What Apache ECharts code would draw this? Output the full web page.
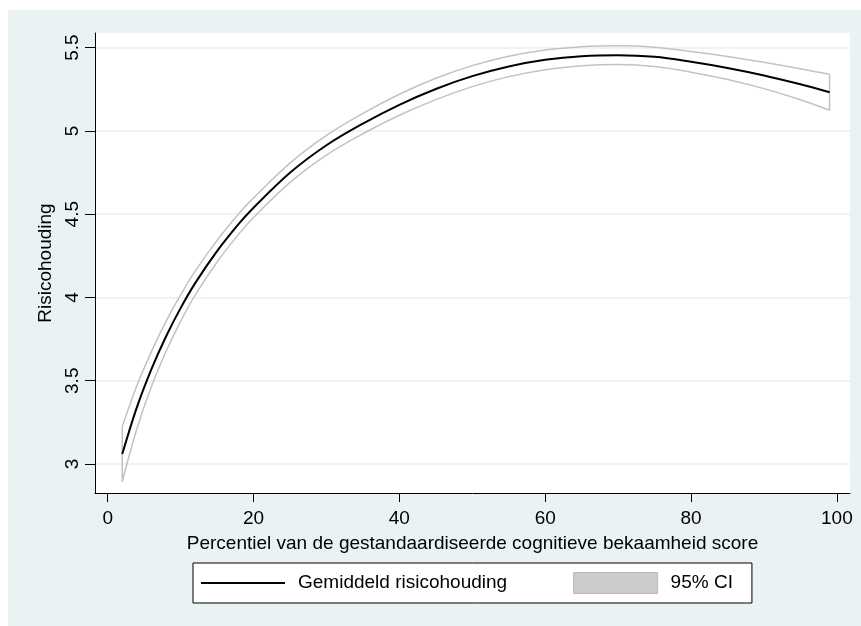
<!DOCTYPE html>
<html><head><meta charset="utf-8">
<script src="https://cdn.jsdelivr.net/npm/echarts@6/dist/echarts.min.js"></script>
<style>html,body{margin:0;padding:0;background:#fff}#c{width:861px;height:626px}</style>
</head><body><div id="c"></div>
<script>
const xVals     = [2, 4, 6, 8, 10, 12, 15, 18, 20, 25, 30, 35, 40, 45, 50, 55, 60, 65, 70, 75, 80, 85, 90, 95, 99];
const meanVals  = [3.06, 3.34, 3.57, 3.766, 3.936, 4.086, 4.278, 4.443, 4.539, 4.749, 4.914, 5.044, 5.157, 5.252, 5.329, 5.387, 5.427, 5.449, 5.455, 5.445, 5.415, 5.378, 5.333, 5.28, 5.232];
const upperVals = [3.225, 3.47, 3.675, 3.856, 4.015, 4.158, 4.343, 4.504, 4.598, 4.807, 4.973, 5.105, 5.22, 5.316, 5.392, 5.448, 5.486, 5.506, 5.511, 5.503, 5.477, 5.447, 5.412, 5.373, 5.34];
const lowerVals = [2.895, 3.21, 3.465, 3.676, 3.857, 4.014, 4.213, 4.382, 4.48, 4.691, 4.855, 4.983, 5.094, 5.188, 5.266, 5.326, 5.368, 5.392, 5.399, 5.387, 5.353, 5.309, 5.254, 5.187, 5.124];
const xTicks = [0, 20, 40, 60, 80, 100];
const yTicks = [3, 3.5, 4, 4.5, 5, 5.5];
const xTitle = 'Percentiel van de gestandaardiseerde cognitieve bekaamheid score';
const yTitle = 'Risicohouding';
const meanName = 'Gemiddeld risicohouding';
const ciName = '95% CI';

const FONT = '"Liberation Sans", Arial, sans-serif';
const pairs = ys => xVals.map((x, i) => [x, ys[i]]);
const last = xVals.length - 1;
const bandStyle = { color: '#c2c2c2', width: 1.5 };

const chart = echarts.init(document.getElementById('c'), null, { renderer: 'canvas' });
chart.setOption({
  animation: false,
  backgroundColor: '#eaf2f3',
  graphic: [
    { type: 'rect', silent: true, z: -1, shape: { x: 0, y: 0, width: 861, height: 10 }, style: { fill: '#fff' } },
    { type: 'rect', silent: true, z: -1, shape: { x: 0, y: 0, width: 8, height: 626 }, style: { fill: '#fff' } }
  ],
  grid: { left: 95, right: 11, top: 33, bottom: 133, show: true, backgroundColor: '#fff', borderWidth: 0, outerBoundsMode: 'none' },
  legend: {
    left: 193, top: 563, orient: 'horizontal',
    itemWidth: 84, itemHeight: 21, itemGap: 66,
    padding: [9, 19, 9, 8],
    borderColor: '#000', borderWidth: 1, borderRadius: 0, backgroundColor: '#fff',
    selectedMode: false,
    textStyle: { fontSize: 19, color: '#000', fontFamily: FONT, padding: [0, 0, 0, 8] },
    data: [
      { name: meanName, icon: 'path://M0,0H84V2H0Z', itemStyle: { color: '#000', borderWidth: 0 } },
      { name: ciName, icon: 'rect', itemStyle: { color: '#cccccc', borderColor: '#b8b8b8', borderWidth: 1 } }
    ]
  },
  xAxis: {
    type: 'value', min: -1.74, max: 101.8,
    name: xTitle, nameLocation: 'middle', nameGap: 41, nameMoveOverlap: false,
    nameTextStyle: { fontSize: 19, color: '#000', fontFamily: FONT },
    axisLine: { show: true, onZero: false, lineStyle: { color: '#000', width: 1 } },
    axisTick: { show: true, length: 9, customValues: xTicks, lineStyle: { color: '#000', width: 1 } },
    axisLabel: { customValues: xTicks, margin: 16, fontSize: 19, color: '#000', fontFamily: FONT },
    splitLine: { show: false }
  },
  yAxis: {
    type: 'value', min: 2.826, max: 5.588,
    name: yTitle, nameLocation: 'middle', nameGap: 40, nameRotate: 90, nameMoveOverlap: false,
    nameTextStyle: { fontSize: 19, color: '#000', fontFamily: FONT },
    axisLine: { show: true, onZero: false, lineStyle: { color: '#000', width: 1 } },
    axisTick: { show: true, length: 10, customValues: yTicks, lineStyle: { color: '#000', width: 1 } },
    axisLabel: { customValues: yTicks, rotate: 90, margin: 13, fontSize: 19, color: '#000', fontFamily: FONT },
    splitLine: { show: true, customValues: yTicks, lineStyle: { color: '#e8f0f1', width: 1.5 } }
  },
  series: [
    { type: 'line', name: ciName, data: pairs(upperVals), smooth: 0.35, symbol: 'none', silent: true, z: 2, lineStyle: bandStyle },
    { type: 'line', name: ciName, data: pairs(lowerVals), smooth: 0.35, symbol: 'none', silent: true, z: 2, lineStyle: bandStyle },
    { type: 'line', name: ciName, data: [[xVals[0], lowerVals[0]], [xVals[0], upperVals[0]]], symbol: 'none', silent: true, z: 2, lineStyle: bandStyle },
    { type: 'line', name: ciName, data: [[xVals[last], lowerVals[last]], [xVals[last], upperVals[last]]], symbol: 'none', silent: true, z: 2, lineStyle: bandStyle },
    { type: 'line', name: meanName, data: pairs(meanVals), smooth: 0.35, symbol: 'none', silent: true, z: 3, lineStyle: { color: '#000', width: 2 } }
  ]
});
</script>
</body></html>
